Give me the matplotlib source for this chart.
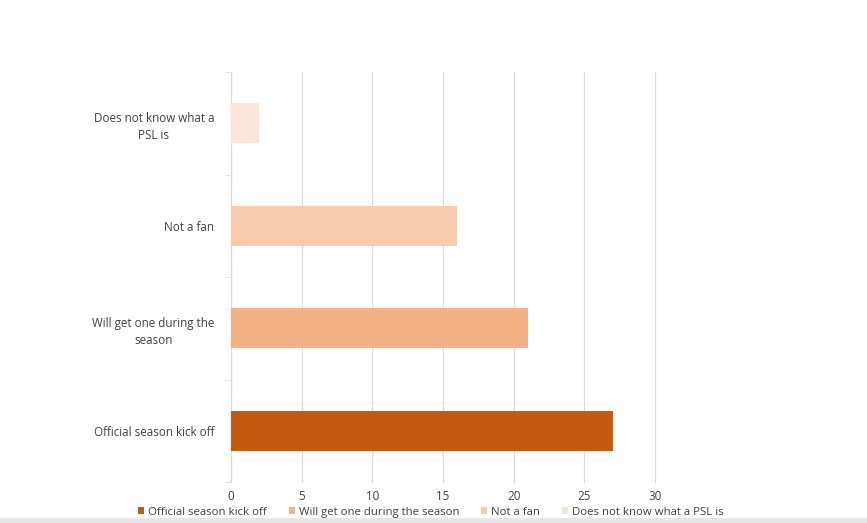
import matplotlib.pyplot as plt
from matplotlib.patches import Rectangle

# data (bottom to top)
categories = ['Official season kick off', 'Will get one during the\nseason',
              'Not a fan', 'Does not know what a\nPSL is']
legend_labels = ['Official season kick off', 'Will get one during the season',
                 'Not a fan', 'Does not know what a PSL is']
values = [27, 21, 16, 2]
colors = ['#C55A11', '#F4B183', '#F8CBAD', '#FBE5D6']
x_ticks = [0, 5, 10, 15, 20, 25, 30]

plt.rcParams['font.family'] = ['Open Sans', 'DejaVu Sans']

fig = plt.figure(figsize=(8.67, 5.23), dpi=100)
ax = fig.add_axes([0.2664, 0.0784, 0.4891, 0.7839])

bars = ax.barh(range(len(values)), values, height=0.39, color=colors, zorder=3)

ax.set_xlim(0, 30)
ax.set_ylim(-0.5, len(values) - 0.5)
ax.set_xticks(x_ticks)
ax.set_yticks(range(len(categories)))
ax.set_yticklabels(categories, multialignment='center', linespacing=1.45)
ax.set_yticks([i - 0.5 for i in range(len(categories) + 1)], minor=True)

ax.grid(axis='x', color='#d9d9d9', linewidth=0.9, zorder=0)
for gl in ax.get_xgridlines():
    gl.set_clip_on(False)
for s in ['top', 'right', 'bottom']:
    ax.spines[s].set_visible(False)
ax.spines['left'].set_color('#d9d9d9')
ax.tick_params(axis='y', which='major', length=0, pad=12, labelsize=8.4, labelcolor='#404040')
ax.tick_params(axis='y', which='minor', length=4, color='#d9d9d9')
ax.tick_params(axis='x', length=0, pad=6, labelsize=8.4, labelcolor='#404040')

leg = fig.legend(bars, legend_labels, loc='lower center', bbox_to_anchor=(0.497, 0.0),
                 ncol=4, frameon=False, fontsize=8.2, handlelength=0.55, handleheight=0.55,
                 handletextpad=0.35, columnspacing=1.9, borderaxespad=0.05)
for t in leg.get_texts():
    t.set_color('#404040')

# grey strip along the bottom edge
fig.patches.append(Rectangle((0, 0), 1, 0.0095, transform=fig.transFigure,
                             facecolor='#e6e6e6', edgecolor='none', zorder=0))

fig.savefig('out.png', dpi=100)
